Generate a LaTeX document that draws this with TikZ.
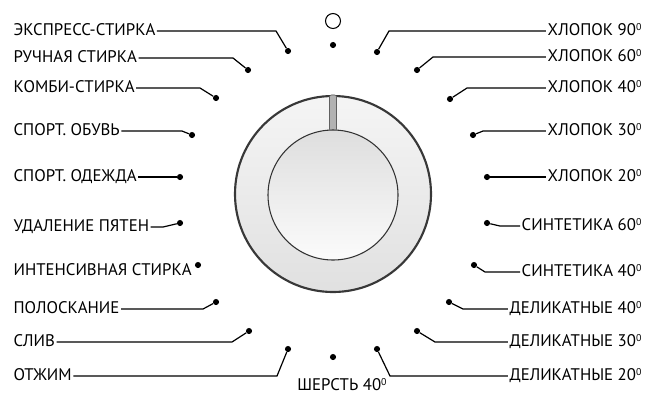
\documentclass[tikz,border=0pt]{standalone}
\usepackage{fontspec}
\setmainfont{PT Sans}
\newcommand{\supzero}{\raisebox{3.7pt}{\fontsize{7.4}{8}\selectfont 0}}

\begin{document}
\begin{tikzpicture}[x=0.75pt,y=-0.75pt,>=latex,
  lbl/.style={font=\fontsize{12.6}{14}\selectfont,inner sep=1pt,text height=0.7em,text depth=0pt},
  pin/.style={circle,fill=black,inner sep=0pt,minimum size=4.6pt},
  lead/.style={line width=0.9pt}]

\useasboundingbox (0,0) rectangle (649,394);

\shade[top color=gray!8,bottom color=gray!24,draw=black!78,line width=1.6pt] (333,194) circle (98);
\filldraw[fill=gray!60,draw=gray!75!black,line width=0.4pt,rounded corners=1.5pt] (329.5,95) rectangle (336.5,131);
\shade[top color=gray!26,bottom color=gray!3,draw=black!80,line width=0.8pt] (333,195) circle (65);

\draw[line width=0.8pt] (333,21) circle (7.5);
\node[pin] (dtop) at (333,45) {};
\node[pin] (dbot) at (333,357) {};
\node[lbl] (wool) at (342,386) {ШЕРСТЬ 40\supzero};

\node[lbl,anchor=west] (l1) at (12,31) {ЭКСПРЕСС-СТИРКА};
\coordinate (bl1) at (276,31);
\node[pin] (dl1) at (288,51) {};
\draw[lead] (l1.east) -- (bl1) -- (dl1);

\node[lbl,anchor=west] (l2) at (12,58) {РУЧНАЯ СТИРКА};
\coordinate (bl2) at (233,58);
\node[pin] (dl2) at (248,70) {};
\draw[lead] (l2.east) -- (bl2) -- (dl2);

\node[lbl,anchor=west] (l3) at (12,88) {КОМБИ-СТИРКА};
\coordinate (bl3) at (200,88);
\node[pin] (dl3) at (216,98) {};
\draw[lead] (l3.east) -- (bl3) -- (dl3);

\node[lbl,anchor=west] (l4) at (12,131) {СПОРТ. ОБУВЬ};
\coordinate (bl4) at (182,131);
\node[pin] (dl4) at (192,135) {};
\draw[lead] (l4.east) -- (bl4) -- (dl4);

\node[lbl,anchor=west] (l5) at (12,177) {СПОРТ. ОДЕЖДА};
\node[pin] (dl5) at (180,177) {};
\draw[lead] (l5.east) -- (dl5);

\node[lbl,anchor=west] (l6) at (12,227) {УДАЛЕНИЕ ПЯТЕН};
\coordinate (bl6) at (163,227);
\node[pin] (dl6) at (180,223) {};
\draw[lead] (l6.east) -- (bl6) -- (dl6);

\node[lbl,anchor=west] (l7) at (12,271) {ИНТЕНСИВНАЯ СТИРКА};
\node[pin] (dl7) at (198,265) {};

\node[lbl,anchor=west] (l8) at (12,309) {ПОЛОСКАНИЕ};
\coordinate (bl8) at (203,309);
\node[pin] (dl8) at (216,302) {};
\draw[lead] (l8.east) -- (bl8) -- (dl8);

\node[lbl,anchor=west] (l9) at (12,342) {СЛИВ};
\coordinate (bl9) at (232,342);
\node[pin] (dl9) at (249,331) {};
\draw[lead] (l9.east) -- (bl9) -- (dl9);

\node[lbl,anchor=west] (l10) at (12,376) {ОТЖИМ};
\coordinate (bl10) at (277,376);
\node[pin] (dl10) at (288,349) {};
\draw[lead] (l10.east) -- (bl10) -- (dl10);

\node[lbl,anchor=east] (r1) at (643,31) {ХЛОПОК 90\supzero};
\coordinate (br1) at (389,31);
\node[pin] (dr1) at (377,52) {};
\draw[lead] (dr1) -- (br1) -- (r1.west);

\node[lbl,anchor=east] (r2) at (643,57) {ХЛОПОК 60\supzero};
\coordinate (br2) at (433,57);
\node[pin] (dr2) at (417,70) {};
\draw[lead] (dr2) -- (br2) -- (r2.west);

\node[lbl,anchor=east] (r3) at (643,88) {ХЛОПОК 40\supzero};
\coordinate (br3) at (467,88);
\node[pin] (dr3) at (450,99) {};
\draw[lead] (dr3) -- (br3) -- (r3.west);

\node[lbl,anchor=east] (r4) at (643,131) {ХЛОПОК 30\supzero};
\coordinate (br4) at (483,131);
\node[pin] (dr4) at (473,135) {};
\draw[lead] (dr4) -- (br4) -- (r4.west);

\node[lbl,anchor=east] (r5) at (643,177) {ХЛОПОК 20\supzero};
\node[pin] (dr5) at (487,177) {};
\draw[lead] (dr5) -- (r5.west);

\node[lbl,anchor=east] (r6) at (643,226) {СИНТЕТИКА 60\supzero};
\coordinate (br6) at (500,226);
\node[pin] (dr6) at (487,223) {};
\draw[lead] (dr6) -- (br6) -- (r6.west);

\node[lbl,anchor=east] (r7) at (643,272) {СИНТЕТИКА 40\supzero};
\coordinate (br7) at (485,272);
\node[pin] (dr7) at (474,265) {};
\draw[lead] (dr7) -- (br7) -- (r7.west);

\node[lbl,anchor=east] (r8) at (643,309) {ДЕЛИКАТНЫЕ 40\supzero};
\coordinate (br8) at (463,309);
\node[pin] (dr8) at (449,302) {};
\draw[lead] (dr8) -- (br8) -- (r8.west);

\node[lbl,anchor=east] (r9) at (643,342) {ДЕЛИКАТНЫЕ 30\supzero};
\coordinate (br9) at (435,342);
\node[pin] (dr9) at (417,331) {};
\draw[lead] (dr9) -- (br9) -- (r9.west);

\node[lbl,anchor=east] (r10) at (643,376) {ДЕЛИКАТНЫЕ 20\supzero};
\coordinate (br10) at (390,376);
\node[pin] (dr10) at (377,349) {};
\draw[lead] (dr10) -- (br10) -- (r10.west);

\end{tikzpicture}
\end{document}
